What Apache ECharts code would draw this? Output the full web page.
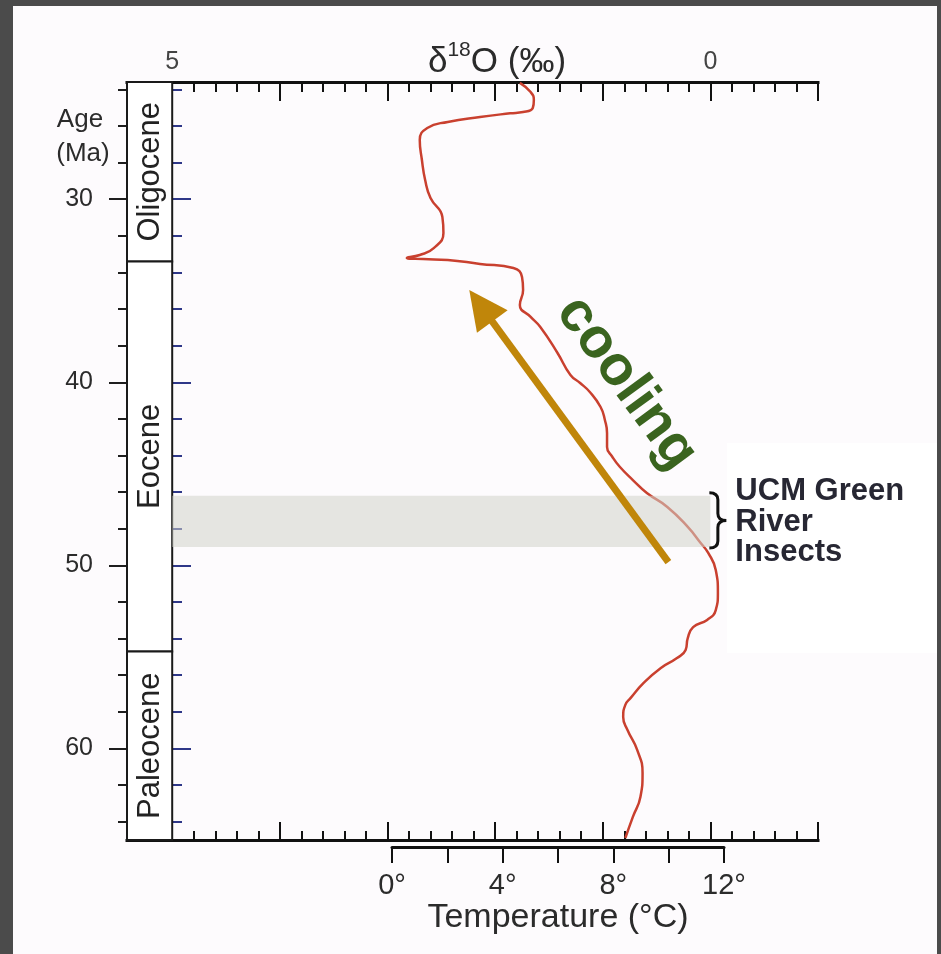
<!DOCTYPE html>
<html>
<head>
<meta charset="utf-8">
<script src="https://cdn.jsdelivr.net/npm/echarts@6/dist/echarts.min.js"></script>
<style>
  html, body { margin: 0; padding: 0; background: #4b4b4b; }
  #chart { width: 941px; height: 954px; }
</style>
</head>
<body>
<div id="chart"></div>
<script>
// Benthic foraminiferal δ18O through the Paleocene – Oligocene
const ageMa = [23.65, 24.15, 24.58, 25.02, 25.24, 25.31, 25.51, 25.78, 26.11, 26.77, 27.86, 28.95,
  29.94, 30.97, 31.85, 32.67, 33.05, 33.21, 33.27, 33.32, 33.54, 33.76,
  34.25, 34.96, 35.78, 36.43, 36.98, 38.40, 39.60, 40.04, 40.53, 41.35,
  42.06, 42.77, 43.53, 44.08, 44.63, 45.34, 46.05, 46.81, 47.90, 48.78,
  49.32, 50.25, 51.51, 52.44, 52.98, 53.37, 53.97, 54.62, 55.06, 55.60,
  56.42, 57.24, 57.62, 58.28, 58.99, 60.08, 61.34, 62.65, 63.74, 64.89];
const d18O = [1.77, 1.67, 1.64, 1.65, 1.74, 1.86, 2.14, 2.44, 2.63, 2.70, 2.68, 2.65,
  2.60, 2.49, 2.48, 2.57, 2.70, 2.82, 2.67, 2.44, 2.14, 1.83,
  1.75, 1.74, 1.77, 1.67, 1.58, 1.42, 1.30, 1.21, 1.12, 1.02,
  0.98, 0.96, 0.96, 0.91, 0.84, 0.72, 0.59, 0.40, 0.21, 0.09,
  0.02, -0.05, -0.07, -0.05, 0.03, 0.16, 0.21, 0.23, 0.31, 0.46,
  0.62, 0.74, 0.79, 0.81, 0.77, 0.68, 0.63, 0.65, 0.72, 0.79];

// Epochs (Ma)
const epochNames = ['Oligocene', 'Eocene', 'Paleocene'];
const epochTop = [23.6, 33.4, 54.7];
const epochBase = [33.4, 54.7, 65];

// UCM Green River insect interval (Ma)
const insectBand = [46.2, 49.0];
const insectLabel = ['UCM Green', 'River', 'Insects'];

// Cooling trend arrow: [δ18O, age]
const arrowTail = [0.39, 49.82];
const arrowTip = [2.24, 34.96];
const arrowText = 'cooling';

// Axis ticks and labels
const ageMinorTicks = [24, 26, 28, 30, 32, 34, 36, 38, 40, 42, 44, 46, 48, 50, 52, 54, 56, 58, 60, 62, 64];
const ageMajorTicks = [30, 40, 50, 60];
const d18OLabels = [5, 0];
const tempLabels = [0, 4, 8, 12];

const X_MIN = -1, X_MAX = 5.42, Y_MIN = 23.6, Y_MAX = 65;
const FONT = '"Liberation Sans", Arial, Helvetica, sans-serif';
const INK = '#2b2b2b';
const BLUE = '#2e3788';
const RED = '#c9402f';

const chart = echarts.init(document.getElementById('chart'), null, { renderer: 'canvas' });

function d18OAxis(position, tickLen, minorLen, showLabel) {
  return {
    type: 'value', gridIndex: 0, position: position, inverse: true,
    min: X_MIN, max: X_MAX, interval: 1,
    splitLine: { show: false },
    axisLine: { show: true, onZero: false, lineStyle: { color: '#111', width: 3, cap: 'square' } },
    axisTick: { show: true, inside: true, length: tickLen, lineStyle: { color: '#111', width: 2 } },
    minorTick: { show: true, splitNumber: 5, length: minorLen, lineStyle: { color: '#111', width: 2 } },
    axisLabel: {
      show: showLabel, margin: 7, fontSize: 25, color: '#444', fontFamily: FONT,
      formatter: v => (d18OLabels.indexOf(v) >= 0 ? String(v) : '')
    }
  };
}

function ageAxis(offset, inside, ticks, len, color, labels) {
  return {
    type: 'value', gridIndex: 0, position: 'left', offset: offset, inverse: true,
    min: Y_MIN, max: Y_MAX,
    splitLine: { show: false },
    axisLine: { show: false, onZero: false },
    axisTick: { show: true, inside: inside, customValues: ticks, length: len, lineStyle: { color: color, width: 2 } },
    axisLabel: labels
      ? { show: true, customValues: labels, margin: 34, fontSize: 25, color: INK, fontFamily: FONT }
      : { show: false }
  };
}

const option = {
  backgroundColor: '#4b4b4b',
  animation: false,
  grid: [
    { left: 127, top: 82, width: 691, height: 758 },
    { left: 392, top: 846, width: 332, height: 1 }
  ],
  xAxis: [
    d18OAxis('top', 19, 10, true),
    d18OAxis('bottom', 18, 9, false),
    {
      type: 'value', gridIndex: 1, position: 'bottom', min: 0, max: 12, interval: 2,
      splitLine: { show: false },
      axisLine: { show: true, onZero: false, lineStyle: { color: '#111', width: 3 } },
      axisTick: { show: true, length: 16, lineStyle: { color: '#111', width: 2 } },
      axisLabel: {
        margin: 24, fontSize: 29, color: INK, fontFamily: FONT,
        formatter: v => (tempLabels.indexOf(v) >= 0 ? v + '°' : '')
      },
      name: 'Temperature (°C)', nameLocation: 'middle', nameGap: 51,
      nameTextStyle: { fontSize: 34, color: INK, fontFamily: FONT }
    }
  ],
  yAxis: [
    ageAxis(0, false, ageMinorTicks, 9, '#1e1e1e', null),
    ageAxis(0, false, ageMajorTicks, 18, '#1e1e1e', ageMajorTicks),
    ageAxis(-45, true, ageMinorTicks, 10, BLUE, null),
    ageAxis(-45, true, ageMajorTicks, 19, BLUE, null),
    { type: 'value', gridIndex: 1, show: false, min: 0, max: 1 }
  ],
  graphic: [
    { type: 'rect', z: -10, silent: true, shape: { x: 13, y: 6, width: 924, height: 960 }, style: { fill: '#fdfbfd' } },
    { type: 'rect', z: -9, silent: true, shape: { x: 727, y: 443, width: 210, height: 210 }, style: { fill: '#ffffff' } },
    { type: 'text', x: 80, y: 120, style: { text: 'Age', fontSize: 26, fontFamily: FONT, fill: INK, align: 'center', verticalAlign: 'middle' } },
    { type: 'text', x: 83, y: 154, style: { text: '(Ma)', fontSize: 26, fontFamily: FONT, fill: INK, align: 'center', verticalAlign: 'middle' } },
    {
      type: 'text', x: 497, y: 80,
      style: {
        text: '{n|δ}{s|18}{n|O (‰)}', align: 'center', verticalAlign: 'bottom',
        rich: {
          n: { fontSize: 35, fontFamily: FONT, fill: INK, lineHeight: 40, verticalAlign: 'bottom' },
          s: { fontSize: 21, fontFamily: FONT, fill: INK, lineHeight: 26, verticalAlign: 'top' }
        }
      }
    }
  ],
  series: [
    {
      name: 'δ18O', type: 'line', xAxisIndex: 0, yAxisIndex: 0, z: 2, silent: true,
      data: ageMa.map((a, i) => [d18O[i], a]),
      showSymbol: false, smooth: 0.5,
      lineStyle: { color: RED, width: 2.5 }
    },
    {
      // epoch column
      type: 'custom', xAxisIndex: 0, yAxisIndex: 0, z: 3, silent: true,
      encode: { y: [0, 1] },
      data: epochNames.map((n, i) => [epochTop[i], epochBase[i]]),
      renderItem: (params, api) => {
        const a = api.coord([X_MAX, api.value(0)]);
        const b = api.coord([5, api.value(1)]);
        return {
          type: 'group',
          children: [
            { type: 'rect', shape: { x: a[0], y: a[1], width: b[0] - a[0], height: b[1] - a[1] },
              style: { fill: '#ffffff', stroke: '#1a1a1a', lineWidth: 2 } },
            { type: 'text', x: (a[0] + b[0]) / 2 + 1, y: (a[1] + b[1]) / 2, rotation: Math.PI / 2,
              style: { text: epochNames[params.dataIndex], fontSize: 31, fontFamily: FONT, fill: '#222',
                       align: 'center', verticalAlign: 'middle' } }
          ]
        };
      }
    },
    {
      // insect interval band
      type: 'custom', xAxisIndex: 0, yAxisIndex: 0, z: 4, silent: true,
      encode: { y: [0, 1] },
      data: [insectBand],
      renderItem: (params, api) => {
        const a = api.coord([5, api.value(0)]);
        const b = api.coord([0, api.value(1)]);
        return { type: 'rect', shape: { x: a[0], y: a[1], width: b[0] - a[0], height: b[1] - a[1] },
                 style: { fill: 'rgba(209,212,202,0.55)' } };
      }
    },
    {
      // cooling arrow
      type: 'custom', xAxisIndex: 0, yAxisIndex: 0, z: 5, silent: true,
      encode: { x: [0, 2], y: [1, 3] },
      data: [[arrowTail[0], arrowTail[1], arrowTip[0], arrowTip[1]]],
      renderItem: (params, api) => {
        const p0 = api.coord([api.value(0), api.value(1)]);
        const p1 = api.coord([api.value(2), api.value(3)]);
        const len = Math.hypot(p1[0] - p0[0], p1[1] - p0[1]);
        const dx = (p0[0] - p1[0]) / len, dy = (p0[1] - p1[1]) / len; // tip -> tail
        const headL = 39, headW = 38;
        const base = [p1[0] + dx * headL, p1[1] + dy * headL];
        const nx = dy, ny = -dx;
        const tc = [p1[0] + dx * 168 + nx * 72, p1[1] + dy * 168 + ny * 72];
        return {
          type: 'group',
          children: [
            { type: 'line', shape: { x1: p0[0], y1: p0[1], x2: base[0] - dx * 2, y2: base[1] - dy * 2 },
              style: { stroke: '#c0860a', lineWidth: 7, lineCap: 'butt' } },
            { type: 'polygon', shape: { points: [p1, [base[0] + nx * headW / 2, base[1] + ny * headW / 2],
                                                  [base[0] - nx * headW / 2, base[1] - ny * headW / 2]] },
              style: { fill: '#c0860a' } },
            { type: 'text', x: tc[0], y: tc[1], rotation: -Math.atan2(dy, dx),
              style: { text: arrowText, fontSize: 56, fontWeight: 'bold', fontFamily: FONT, fill: '#3a641f',
                       align: 'center', verticalAlign: 'middle' } }
          ]
        };
      }
    },
    {
      // brace and label for the insect interval
      type: 'custom', xAxisIndex: 0, yAxisIndex: 0, z: 6, silent: true,
      encode: { y: [0, 1] },
      data: [insectBand],
      renderItem: (params, api) => {
        const t = api.coord([0, api.value(0)]);
        const b = api.coord([0, api.value(1)]);
        const x0 = t[0] - 1, w = 17, y0 = t[1] - 3, y1 = b[1] + 1, ym = (y0 + y1) / 2;
        const xs = x0 + w * 0.5, xt = x0 + w, r = 7;
        const path = 'M' + x0 + ' ' + y0 + ' Q' + xs + ' ' + y0 + ' ' + xs + ' ' + (y0 + r) +
          ' L' + xs + ' ' + (ym - r) + ' Q' + xs + ' ' + ym + ' ' + xt + ' ' + ym +
          ' Q' + xs + ' ' + ym + ' ' + xs + ' ' + (ym + r) +
          ' L' + xs + ' ' + (y1 - r) + ' Q' + xs + ' ' + y1 + ' ' + x0 + ' ' + y1;
        return {
          type: 'group',
          children: [
            { type: 'path', shape: { pathData: path }, style: { fill: 'none', stroke: '#111', lineWidth: 3 } },
            { type: 'text', x: xt + 9, y: ym + 2,
              style: { text: insectLabel.join('\n'), fontSize: 31, fontWeight: 'bold', fontFamily: FONT,
                       lineHeight: 30.5, fill: '#272733', align: 'left', verticalAlign: 'middle' } }
          ]
        };
      }
    }
  ]
};

chart.setOption(option);
</script>
</body>
</html>
